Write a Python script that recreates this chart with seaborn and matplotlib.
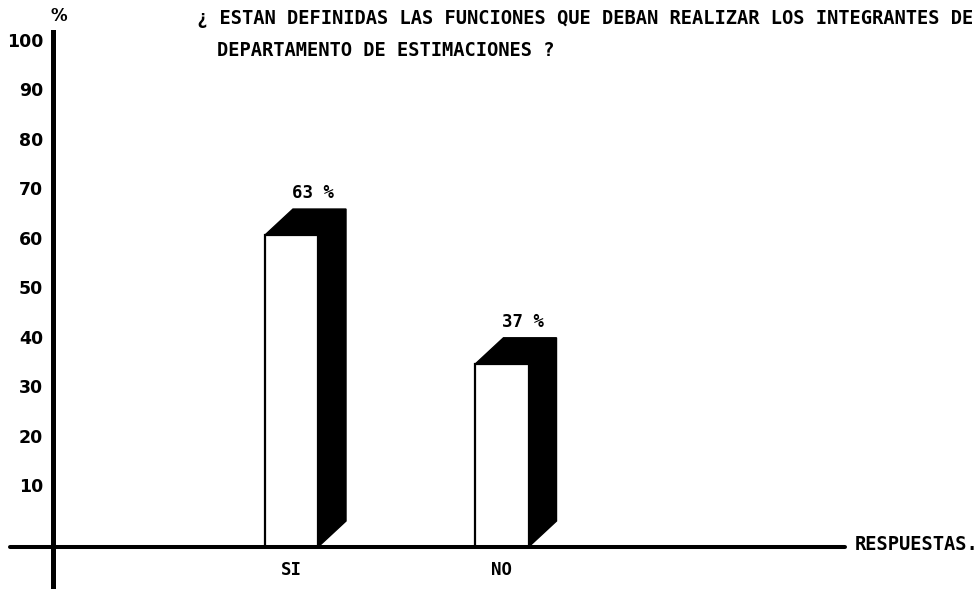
import matplotlib
matplotlib.use("Agg")
import matplotlib.pyplot as plt
import matplotlib.transforms as mtransforms
from matplotlib.patches import Polygon
import seaborn as sns

# ── Data ───────────────────────────────────────────────────────────────────────
respuestas = ["SI", "NO"]
porcentajes = [63, 37]
y_ticks = [10, 20, 30, 40, 50, 60, 70, 80, 90, 100]

TITLE_1 = "¿ ESTAN DEFINIDAS LAS FUNCIONES QUE DEBAN REALIZAR LOS INTEGRANTES DE"
TITLE_2 = "DEPARTAMENTO DE ESTIMACIONES ?"

MONO = "DejaVu Sans Mono"
W, H = 977, 589

sns.set_style("white", {"text.color": "black", "ytick.color": "black"})
plt.rcParams["font.family"] = ["DejaVu Sans"]
plt.rcParams["text.color"] = "black"

fig = plt.figure(figsize=(W / 100, H / 100), dpi=100, facecolor="white")
ax = fig.add_axes([53 / W, 0, 792 / W, 557 / H])

sns.barplot(x=respuestas, y=porcentajes, width=0.252, color="white",
            saturation=1, edgecolor="black", linewidth=1.6,
            errorbar=None, ax=ax, zorder=3)

ax.set_xlim(-1.133, 2.6295)
ax.set_ylim(-8.48, 104)

# 3D black side + top for every bar
dx, dy = 0.133, 5.25
for p, val in zip(ax.patches, porcentajes):
    x0 = p.get_x()
    x1 = x0 + p.get_width()
    h = p.get_height()
    poly = Polygon([(x0, h), (x0 + dx, h + dy), (x1 + dx, h + dy),
                    (x1 + dx, dy), (x1, 0), (x1, h)],
                   closed=True, facecolor="black", edgecolor="black",
                   linewidth=1, zorder=2)
    ax.add_patch(poly)
    ax.text(x0 + p.get_width() / 2 + 0.1, h + dy + 1.4, f"{val} %",
            ha="center", va="bottom", fontsize=12.5, fontweight="bold",
            family=MONO, color="black")

# category labels under the axis
for i, lab in enumerate(respuestas):
    ax.text(i, -4.65, lab, ha="center", va="center", fontsize=12.5,
            fontweight="bold", family=MONO, color="black")

# axes lines
for s in ["top", "right", "bottom"]:
    ax.spines[s].set_visible(False)
ax.spines["left"].set_linewidth(3.6)
ax.spines["left"].set_color("black")
ax.axhline(0, xmin=-43 / 792, xmax=1, color="black", linewidth=2.9,
           clip_on=False, zorder=4)

ax.set_xticks([])
ax.set_yticks(y_ticks)
ax.set_yticklabels([str(v) for v in y_ticks], fontsize=12.5, fontweight="bold")
ax.tick_params(axis="y", length=2, width=0.8, pad=5, colors="black")
shift = mtransforms.ScaledTranslation(0, 12 / 100, fig.dpi_scale_trans)
for lbl in ax.get_yticklabels():
    lbl.set_transform(lbl.get_transform() + shift)
ax.set_xlabel("")
ax.set_ylabel("")

# texts
fig.text(59 / W, 1 - 16 / H, "%", ha="center", va="center", fontsize=12,
         fontweight="bold", color="black")
fig.text(197 / W, 1 - 18 / H, TITLE_1, ha="left", va="center",
         fontsize=13.5, family=MONO, fontweight="bold", color="black")
fig.text(217 / W, 1 - 50 / H, TITLE_2, ha="left", va="center",
         fontsize=13.5, family=MONO, fontweight="bold", color="black")
fig.text(855 / W, 1 - 545 / H, "RESPUESTAS.", ha="left", va="center",
         fontsize=13.5, family=MONO, fontweight="bold", color="black")

fig.savefig("out.png", dpi=100, facecolor="white")
plt.close(fig)
